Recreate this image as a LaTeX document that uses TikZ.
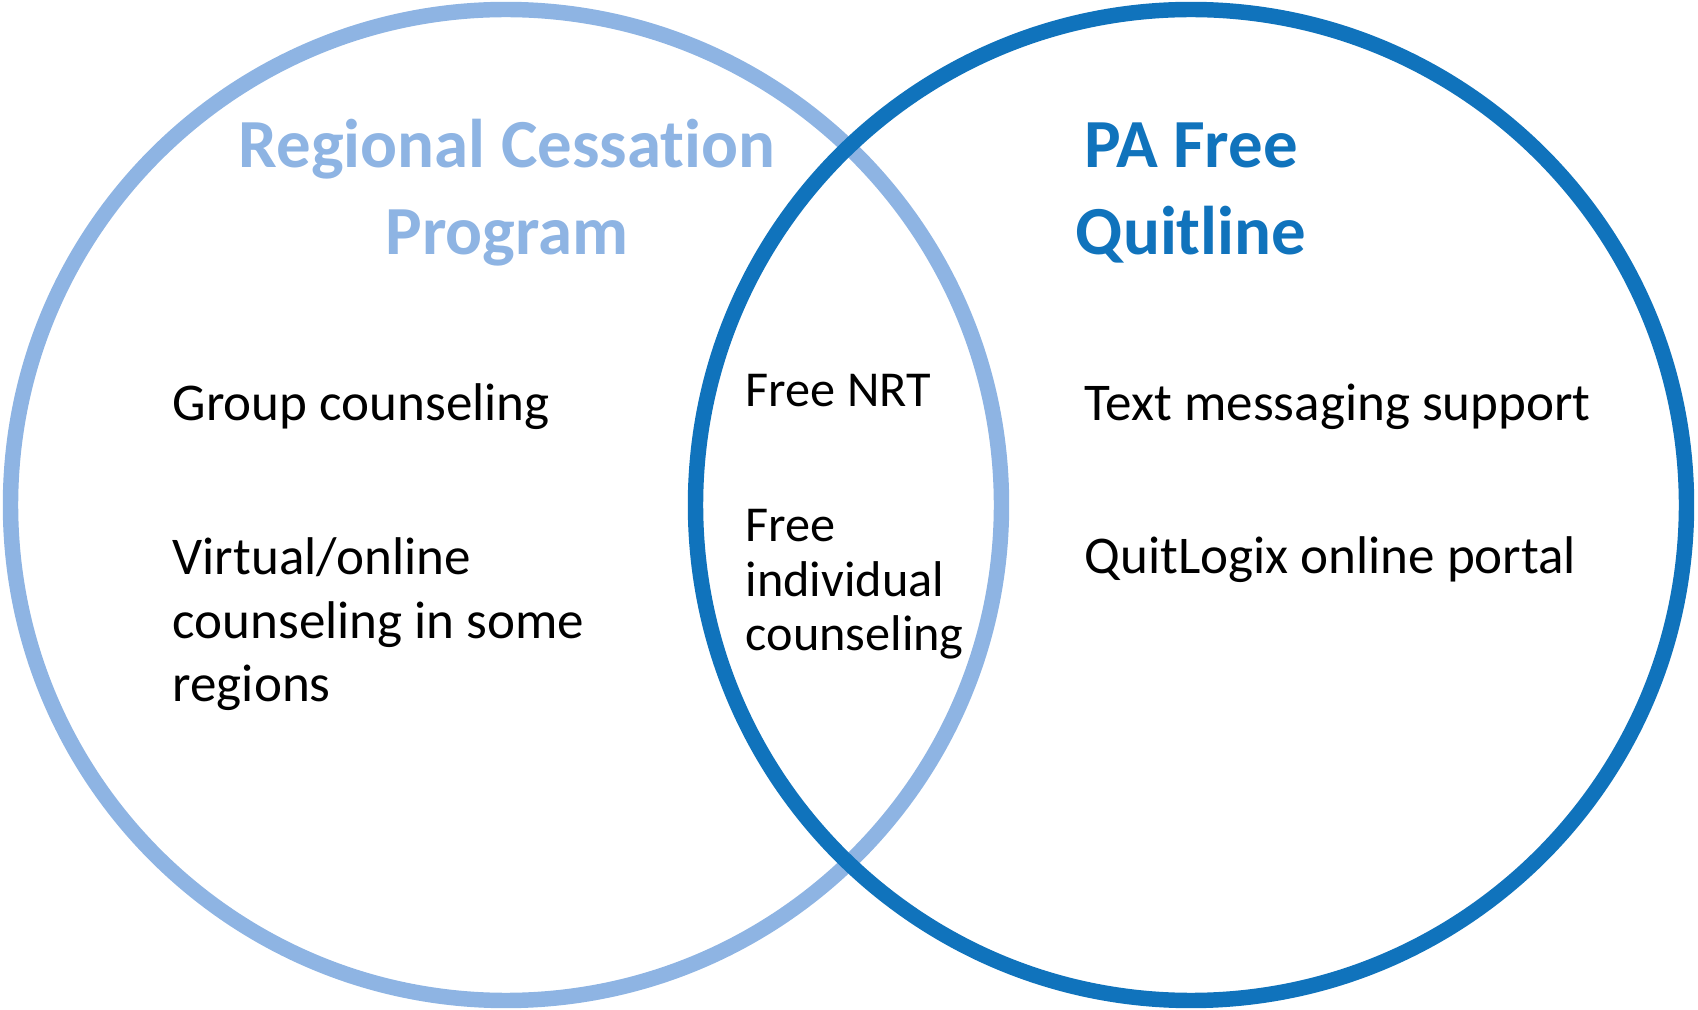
\documentclass[tikz,border=0pt]{standalone}
\usepackage{fontspec}
\setmainfont{Carlito}[Ligatures=NoCommon]

\definecolor{paleblue}{RGB}{142,180,227}
\definecolor{deepblue}{RGB}{16,115,188}

\tikzset{
  ring/.style={line width=4.4pt},
  heading/.style={font=\fontsize{19.6}{24.8}\selectfont\bfseries, align=center, anchor=base, inner sep=0pt},
  item/.style={font=\fontsize{15.1}{18.2}\selectfont, align=left, anchor=base west, inner sep=0pt},
  narrow/.style={font=\fontsize{14.3}{15.6}\selectfont}
}

\begin{document}
\begin{tikzpicture}[x=0.1mm, y=0.1mm]
    \useasboundingbox (0,0) rectangle (1698,-1010);
    % the two sets, the darker one lies on top
    \draw [ring, paleblue] (506,-505) circle (495.5);
    \draw [ring, deepblue] (1191,-505) circle (495.5);
    % set titles (multi-line nodes sit on their last baseline)
    \node [heading, text=paleblue] (regional) at (507,-255) {Regional Cessation\\Program};
    \node [heading, text=deepblue] (quitline) at (1191,-255) {PA Free\\Quitline};
    % left only
    \node [item] (group) at (172,-421) {Group counseling};
    \node [item] (virtual) at (172,-702) {Virtual/online\\counseling in some\\regions};
    % both
    \node [item, narrow] (nrt) at (745,-407) {Free NRT};
    \node [item, narrow] (individual) at (745,-651) {Free\\individual\\counseling};
    % right only
    \node [item] (texting) at (1084,-421) {Text messaging support};
    \node [item] (portal) at (1084,-574) {QuitLogix online portal};
\end{tikzpicture}
\end{document}
